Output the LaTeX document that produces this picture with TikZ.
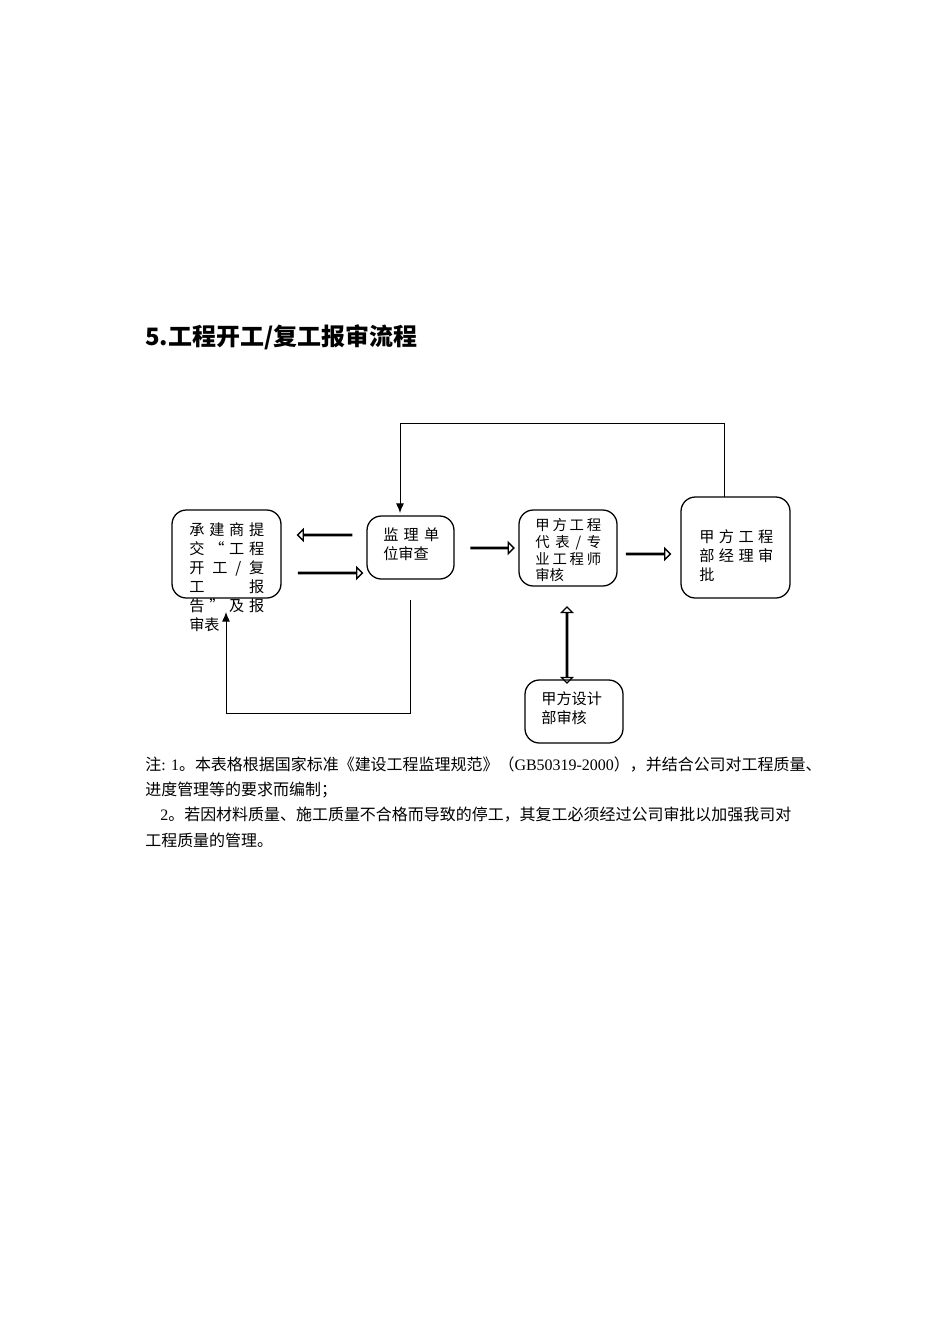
\documentclass[tikz,border=0pt]{standalone}
\usepackage{fontspec}
\setmainfont{Liberation Serif}
\newfontfamily\cjk{Noto Sans CJK SC}
\usetikzlibrary{shapes.arrows,arrows.meta}
\newlength{\pxu}\setlength{\pxu}{0.626pt}
\newcommand{\spr}[1]{\makebox[75\pxu][s]{#1}}
\begin{document}
\begin{tikzpicture}[x=0.626pt,y=-0.626pt,
 box/.style={draw,rounded corners=9pt,thick},
 txt/.style={font=\cjk\fontsize{9.5pt}{12pt}\selectfont,align=left,anchor=north west,inner sep=0},
 harrow/.style={draw,single arrow,single arrow head extend=2.5pt,minimum width=7pt,inner sep=0,line width=0.8pt},
 larrow/.style={-{Latex[length=6pt,width=5pt]},line width=0.6pt}]
\useasboundingbox (0,0) rectangle (950,1344);
\node[anchor=west,inner sep=0,font=\bfseries\cjk\fontsize{15pt}{18pt}\selectfont] (title) at (145,337) {5.工程开工/复工报审流程};
% boxes
\draw[box] (172,510) rectangle (281,598);
\node[txt] (at) at (189,522) {\spr{承\hfill 建\hfill 商\hfill 提}\\\spr{交\hfill “\hfill 工\hfill 程}\\\spr{开\hfill 工\hfill /\hfill 复}\\\spr{工\hfill 报}\\\spr{告\hfill ”\hfill 及\hfill 报}\\审表};
\draw[box] (367,516) rectangle (454,579);
\node[txt] (bt) at (383,527) {\makebox[56\pxu][s]{监\hfill 理\hfill 单}\\位审查};
\draw[box] (519,510) rectangle (617,586);
\node[txt,font=\cjk\fontsize{9pt}{10.5pt}\selectfont] (ct) at (535,518) {\makebox[66\pxu][s]{甲\hfill 方\hfill 工\hfill 程}\\\makebox[66\pxu][s]{代\hfill 表\hfill /\hfill 专}\\\makebox[66\pxu][s]{业\hfill 工\hfill 程\hfill 师}\\审核};
\draw[box] (681,497) rectangle (790,598);
\node[txt] (dt) at (699,529) {\makebox[74\pxu][s]{甲\hfill 方\hfill 工\hfill 程}\\\makebox[74\pxu][s]{部\hfill 经\hfill 理\hfill 审}\\批};
\draw[box] (525,680) rectangle (623,743);
\node[txt] (et) at (541,691) {甲方设计\\部审核};
% feedback
\coordinate (d1) at (724,497); \coordinate (d2) at (724,423); \coordinate (d3) at (400,423); \coordinate (bt1) at (400,513);
\draw[larrow] (d1)--(d2)--(d3)--(bt1);
\coordinate (b1) at (410,600); \coordinate (b2) at (410,713); \coordinate (b3) at (226,713); \coordinate (a1) at (226,612);
\draw[larrow] (b1)--(b2)--(b3)--(a1);
% hollow arrows
\node[harrow,shape border rotate=180,minimum height=54*0.626pt] (h1) at (325,535) {};
\node[harrow,minimum height=64*0.626pt] (h2) at (330,573) {};
\node[harrow,minimum height=43*0.626pt] (h3) at (492,548) {};
\node[harrow,minimum height=44*0.626pt] (h4) at (648,554) {};
\node[draw,double arrow,double arrow head extend=2.5pt,minimum width=7pt,inner sep=0,line width=0.8pt,shape border rotate=90,minimum height=76*0.626pt] (h5) at (567,645) {};
% notes
\begin{scope}[every node/.style={anchor=west,inner sep=0,font=\fontsize{10pt}{12pt}\selectfont}]
\node (n1) at (145,765) {{\cjk 注}: 1{\cjk。本表格根据国家标准《建设工程监理规范》（}GB50319-2000{\cjk），并结合公司对工程质量、}};
\node (n2) at (145,790) {\cjk 进度管理等的要求而编制；};
\node (n3) at (160,815) {2{\cjk。若因材料质量、施工质量不合格而导致的停工，其复工必须经过公司审批以加强我司对}};
\node (n4) at (145,840) {\cjk 工程质量的管理。};
\end{scope}
\end{tikzpicture}
\end{document}
